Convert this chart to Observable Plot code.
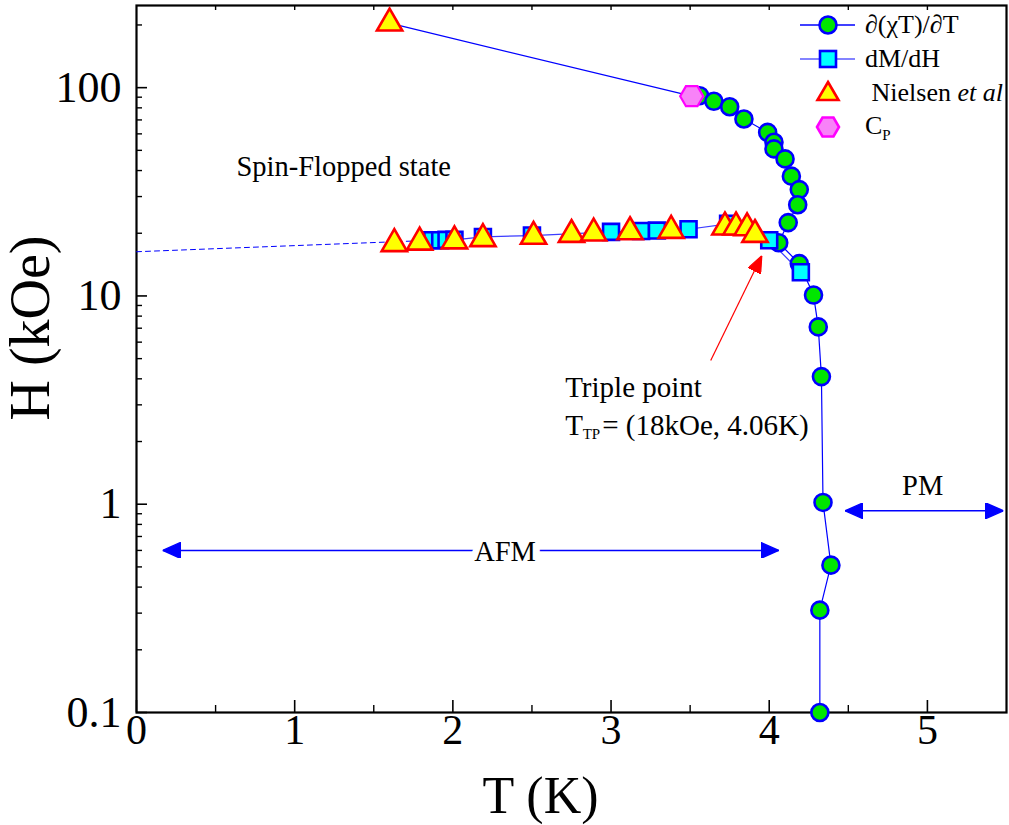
<!DOCTYPE html>
<html>
<head>
<meta charset="utf-8">
<script src="https://cdn.jsdelivr.net/npm/d3@7"></script>
<script src="https://cdn.jsdelivr.net/npm/@observablehq/plot@0.6"></script>
<style>
  html, body { margin: 0; padding: 0; background: #fff; }
  #wrap { position: relative; width: 1009px; height: 825px; font-family: "Liberation Serif", "Times New Roman", serif; }
  #legend { position: absolute; left: 797px; top: 8px; font-size: 26px; color: #000; }
  .row { display: flex; align-items: center; height: 34px; white-space: nowrap; }
  .row svg { width: 62px; height: 34px; margin-right: 6px; flex: none; }
  sub { font-size: 15px; vertical-align: -6px; }
</style>
</head>
<body>
<div id="wrap">
  <div id="chart"></div>
  <div id="legend"></div>
</div>
<script>
// ∂(χT)/∂T peaks: temperature (K) and field (kOe)
const chiT_T = [3.56, 3.65, 3.75, 3.84, 3.99, 4.03, 4.03, 4.10, 4.14, 4.19, 4.18, 4.12, 4.06, 4.19, 4.28, 4.31, 4.33, 4.34, 4.39, 4.32, 4.32];
const chiT_H = [91.5, 86, 81, 70.7, 61, 54.7, 50.8, 45.5, 37.6, 32.4, 27.4, 22.5, 18.0, 14.3, 10.1, 7.1, 4.1, 1.02, 0.51, 0.31, 0.1];

// dM/dH spin-flop peaks
const dMdH_T = [1.87, 1.92, 1.96, 2.01, 2.19, 2.50, 3.00, 3.19, 3.29, 3.49, 3.74, 4.00, 4.20];
const dMdH_H = [18.5, 18.5, 18.6, 18.6, 19.2, 19.5, 20.3, 20.5, 20.6, 20.9, 22.2, 18.5, 13.0];

// Nielsen et al.
const niel_T = [1.60, 1.63, 1.79, 2.01, 2.19, 2.51, 2.75, 2.89, 3.12, 3.38, 3.72, 3.79, 3.86, 3.91];
const niel_H = [204, 17.8, 18.1, 18.35, 18.8, 19.3, 19.7, 20.0, 20.3, 20.6, 21.4, 21.4, 21.2, 19.7];

// Heat capacity anomaly
const cp_T = [3.51];
const cp_H = [91];

// Spin-flop line extrapolated to T = 0
const extrap_T = [0, 1.87];
const extrap_H = [16.3, 18.5];

// Axis ticks
const xMajor = [0, 1, 2, 3, 4, 5];
const xMinor = [0.5, 1.5, 2.5, 3.5, 4.5];
const xTop = [0.5, 1, 1.5, 2, 2.5, 3, 3.5, 4, 4.5, 5];
const yMajor = [0.1, 1, 10, 100];
const yMinor = [0.2, 0.3, 0.4, 0.5, 0.6, 0.7, 0.8, 0.9, 2, 3, 4, 5, 6, 7, 8, 9, 20, 30, 40, 50, 60, 70, 80, 90, 200];

// Phase-region annotations
const regionNotes = [
  {text: "Spin-Flopped state", T: 1.31, H: 41.7},
  {text: "PM", T: 4.97, H: 1.23},
  {text: "AFM", T: 2.33, H: 0.59}
];
const tripleTitle = [{text: "Triple point", T: 2.71, H: 3.63}];
const tripleLabel = [{T: 2.71, H: 2.38}];
const tripleArrow = [{T1: 3.63, H1: 4.9, T2: 3.953, H2: 15.6}];
const regionArrows = [
  {T1: 0.165, T2: 4.06, H: 0.6},
  {T1: 4.48, T2: 5.48, H: 0.93}
];

const zip = (xs, ys) => xs.map((T, i) => ({T, H: ys[i]}));
const chiT = zip(chiT_T, chiT_H);
const dMdH = zip(dMdH_T, dMdH_H);
const niel = zip(niel_T, niel_H);
const cp = zip(cp_T, cp_H);
const extrap = zip(extrap_T, extrap_H);
// the high-field boundary runs from the top Nielsen point through the Cp point into the ∂(χT)/∂T curve
const boundary = [niel[0], cp[0], ...chiT];

const BLUE = "#0000ff";
const GREEN = "#00e600";

// filled triangular arrowhead
function filledHead(len, wid) {
  return (color) => {
    const ns = "http://www.w3.org/2000/svg";
    const m = document.createElementNS(ns, "marker");
    m.setAttribute("viewBox", `${-len} ${-wid / 2} ${len} ${wid}`);
    m.setAttribute("markerUnits", "userSpaceOnUse");
    m.setAttribute("markerWidth", len);
    m.setAttribute("markerHeight", wid);
    m.setAttribute("refX", 0);
    m.setAttribute("refY", 0);
    m.setAttribute("orient", "auto-start-reverse");
    m.setAttribute("fill", color);
    const p = document.createElementNS(ns, "path");
    p.setAttribute("d", `M0,0L${-len},${-wid / 2}L${-len},${wid / 2}Z`);
    m.appendChild(p);
    return m;
  };
}

const plot = Plot.plot({
  width: 1009,
  height: 825,
  marginLeft: 136,
  marginRight: 3,
  marginTop: 5,
  marginBottom: 113,
  style: {fontFamily: "'Liberation Serif', 'Times New Roman', serif", background: "#fff", color: "#000"},
  x: {domain: [0, 5.5]},
  y: {type: "log", domain: [0.1, 248]},
  marks: [
    // ticks (inward) and tick labels
    Plot.axisX(xMajor, {anchor: "bottom", tickSize: -12, strokeWidth: 1.6, tickFormat: () => "", label: null}),
    Plot.axisX(xMinor, {anchor: "bottom", tickSize: -7, strokeWidth: 1.4, tickFormat: () => "", label: null}),
    Plot.axisX(xTop, {anchor: "top", tickSize: -4, strokeWidth: 1.4, tickFormat: () => "", label: null}),
    Plot.axisX(xMajor, {anchor: "bottom", tickSize: 0, tickPadding: 2, fontSize: 42, tickFormat: d => String(d), label: null}),
    Plot.axisY(yMajor, {anchor: "left", tickSize: -11, strokeWidth: 1.6, tickFormat: () => "", label: null}),
    Plot.axisY(yMinor, {anchor: "left", tickSize: -6, strokeWidth: 1.4, tickFormat: () => "", label: null}),
    Plot.axisY(yMajor, {anchor: "left", tickSize: 0, tickPadding: 15, fontSize: 44, tickFormat: d => String(d), label: null}),
    Plot.frame({stroke: "#000", strokeWidth: 2.2}),

    // axis titles
    Plot.text(["T (K)"], {frameAnchor: "bottom", textAnchor: "middle", lineAnchor: "middle", dx: -31, dy: 84, fontSize: 52, fill: "#000"}),
    Plot.text(["H (kOe)"], {frameAnchor: "left", textAnchor: "middle", lineAnchor: "middle", dx: -105, dy: -31, rotate: -90, fontSize: 56, fill: "#000"}),

    // connecting lines
    Plot.line(extrap, {x: "T", y: "H", stroke: BLUE, strokeWidth: 1, strokeDasharray: "5,4"}),
    Plot.line(dMdH, {x: "T", y: "H", stroke: "#3c3cff", strokeWidth: 1.2}),
    Plot.line(boundary, {x: "T", y: "H", stroke: BLUE, strokeWidth: 1.2}),

    // data points
    Plot.dot(chiT, {x: "T", y: "H", r: 8.5, fill: GREEN, stroke: BLUE, strokeWidth: 2.6}),
    Plot.dot(dMdH, {x: "T", y: "H", r: 9, symbol: "square", fill: "#00ffff", stroke: BLUE, strokeWidth: 2.6}),
    Plot.dot(niel, {x: "T", y: "H", r: 9.4, symbol: "triangle", fill: "#ffff00", stroke: "#ff0000", strokeWidth: 2.6}),
    Plot.dot(cp, {x: "T", y: "H", r: 10, symbol: "hexagon", rotate: 90, fill: "#f882f8", stroke: "#ff00ff", strokeWidth: 2.2}),

    // arrows
    Plot.link(tripleArrow, {x1: "T1", y1: "H1", x2: "T2", y2: "H2", stroke: "#ff0000", strokeWidth: 1.2, markerEnd: filledHead(17, 14)}),
    Plot.link(regionArrows, {x1: "T1", x2: "T2", y1: "H", y2: "H", stroke: BLUE, strokeWidth: 1.4, markerStart: filledHead(18, 16), markerEnd: filledHead(18, 16)}),

    // annotations
    Plot.text(regionNotes, {x: "T", y: "H", text: "text", textAnchor: "middle", fontSize: 28.5, fill: "#000", stroke: "#fff", strokeWidth: 14, strokeLinejoin: "round"}),
    Plot.text(tripleTitle, {x: "T", y: "H", text: "text", textAnchor: "start", fontSize: 29, fill: "#000"}),
    // T_TP = (18kOe, 4.06K)
    Plot.text(tripleLabel, {x: "T", y: "H", text: () => "T", textAnchor: "start", fontSize: 29, fill: "#000"}),
    Plot.text(tripleLabel, {x: "T", y: "H", text: () => "TP", textAnchor: "start", dx: 17.5, dy: 8, fontSize: 15, fill: "#000"}),
    Plot.text(tripleLabel, {x: "T", y: "H", text: () => "= (18kOe, 4.06K)", textAnchor: "start", dx: 37, fontSize: 29, fill: "#000"})
  ]
});
document.getElementById("chart").appendChild(plot);

// legend
const legendItems = [
  {label: "∂(χT)/∂T", symbol: "circle", line: BLUE, fill: GREEN, stroke: BLUE},
  {label: "dM/dH", symbol: "square", line: "#5a5aff", fill: "#00ffff", stroke: BLUE},
  {label: "&nbsp;Nielsen <i>et al</i>", symbol: "triangle", line: null, fill: "#ffff00", stroke: "#ff0000"},
  {label: "C<sub>P</sub>", symbol: "hexagon", line: null, fill: "#f882f8", stroke: "#ff00ff"}
];
const legend = document.getElementById("legend");
for (const item of legendItems) {
  const row = document.createElement("div");
  row.className = "row";
  let shape;
  if (item.symbol === "circle") shape = `<circle cx="31" cy="17" r="8.5"/>`;
  else if (item.symbol === "square") shape = `<rect x="23" y="9" width="16" height="16"/>`;
  else if (item.symbol === "triangle") shape = `<path d="M31,6L41.5,24L20.5,24Z"/>`;
  else shape = `<path d="M20,17L25.5,7.5L36.5,7.5L42,17L36.5,26.5L25.5,26.5Z"/>`;
  const line = item.line ? `<line x1="3" x2="58" y1="17" y2="17" stroke="${item.line}" stroke-width="1.4"/>` : "";
  row.innerHTML = `<svg viewBox="0 0 62 34">${line}<g fill="${item.fill}" stroke="${item.stroke}" stroke-width="2.6">${shape}</g></svg><span>${item.label}</span>`;
  legend.appendChild(row);
}
</script>
</body>
</html>
